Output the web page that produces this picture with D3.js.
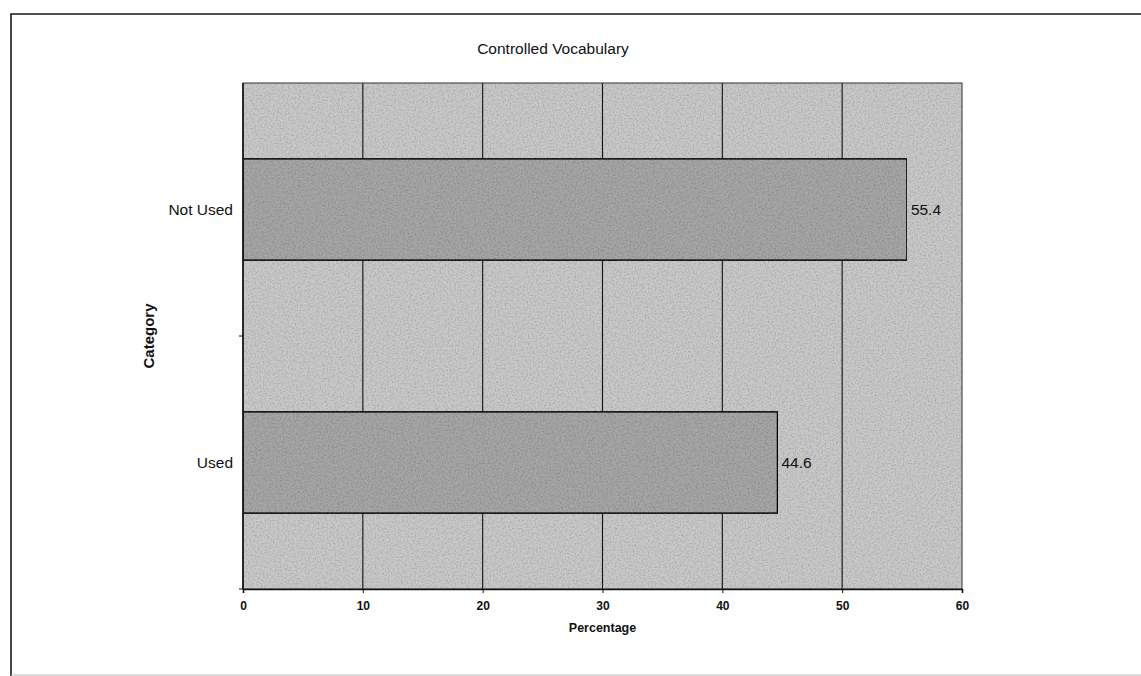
<!DOCTYPE html>
<html>
<head>
<meta charset="utf-8">
<script src="https://cdn.jsdelivr.net/npm/d3@7"></script>
<style>
  html, body { margin: 0; padding: 0; background: #fff; }
  svg { display: block; font-family: "Liberation Sans", Arial, sans-serif; }
</style>
</head>
<body>
<svg id="chart" width="1141" height="676"></svg>
<script>
// Survey results: share of respondents using a controlled vocabulary
const categories = ["Not Used", "Used"];
const percentages = [55.4, 44.6];
const xTicks = [0, 10, 20, 30, 40, 50, 60];
const chartTitle = "Controlled Vocabulary";
const xTitle = "Percentage";
const yTitle = "Category";

const W = 1141, H = 676;
const plot = { left: 243, top: 83, right: 962, bottom: 589 };

const svg = d3.select("#chart");

// grain texture for the shaded areas
const defs = svg.append("defs");
const grain = defs.append("filter").attr("id", "grain")
  .attr("x", 0).attr("y", 0).attr("width", 1).attr("height", 1);
grain.append("feTurbulence").attr("type", "fractalNoise")
  .attr("baseFrequency", 0.6).attr("numOctaves", 2).attr("seed", 7).attr("result", "noise");
grain.append("feColorMatrix").attr("in", "noise").attr("type", "matrix")
  .attr("values", "0 0 0 0 0  0 0 0 0 0  0 0 0 0 0  0 0 0 0.7 -0.28").attr("result", "dots");
grain.append("feComposite").attr("in", "dots").attr("in2", "SourceGraphic").attr("operator", "in").attr("result", "dotsIn");
grain.append("feMerge").selectAll("feMergeNode")
  .data(["SourceGraphic", "dotsIn"]).join("feMergeNode").attr("in", d => d);

// outer frame
svg.append("path")
  .attr("d", `M11,${H + 2} L11,14 L${W + 2},14`)
  .attr("fill", "none").attr("stroke", "#1a1a1a").attr("stroke-width", 1.6);
svg.append("line")
  .attr("x1", 11).attr("x2", W).attr("y1", 675).attr("y2", 675)
  .attr("stroke", "#bbb").attr("stroke-width", 1);

const x = d3.scaleLinear().domain([0, 60]).range([plot.left, plot.right]);
const y = d3.scaleBand().domain(categories)
  .range([plot.top, plot.bottom]).paddingInner(0.6).paddingOuter(0.3);

// plot background
svg.append("rect")
  .attr("x", plot.left).attr("y", plot.top)
  .attr("width", plot.right - plot.left).attr("height", plot.bottom - plot.top)
  .attr("fill", "#c9c9c9").attr("filter", "url(#grain)");

// vertical gridlines
svg.append("g").selectAll("line").data(xTicks.slice(1, -1)).join("line")
  .attr("x1", d => x(d)).attr("x2", d => x(d))
  .attr("y1", plot.top).attr("y2", plot.bottom)
  .attr("stroke", "#111").attr("stroke-width", 1.1);

// bars
svg.append("g").selectAll("rect").data(categories).join("rect")
  .attr("x", x(0))
  .attr("y", d => y(d))
  .attr("width", (d, i) => x(percentages[i]) - x(0))
  .attr("height", y.bandwidth())
  .attr("fill", "#a6a6a6")
  .attr("stroke", "#111").attr("stroke-width", 1.5)
  .attr("filter", "url(#grain)");

// value labels
svg.append("g").selectAll("text").data(categories).join("text")
  .attr("x", (d, i) => x(percentages[i]) + 4)
  .attr("y", d => y(d) + y.bandwidth() / 2)
  .attr("dy", "0.36em")
  .attr("font-size", 15.5).attr("fill", "#111")
  .text((d, i) => percentages[i].toFixed(1));

// plot frame
svg.append("rect")
  .attr("x", plot.left).attr("y", plot.top)
  .attr("width", plot.right - plot.left).attr("height", plot.bottom - plot.top)
  .attr("fill", "none").attr("stroke", "#333").attr("stroke-width", 1);

// x axis
const xAxis = svg.append("g")
  .attr("transform", `translate(0,${plot.bottom})`)
  .call(d3.axisBottom(x).tickValues(xTicks).tickSize(4).tickPadding(8).tickFormat(d3.format("d")));
xAxis.select(".domain").attr("stroke", "#111").attr("stroke-width", 1.6);
xAxis.selectAll(".tick line").attr("stroke", "#111");
xAxis.selectAll("text")
  .attr("font-size", 12).attr("font-weight", "bold").attr("fill", "#111")
  .attr("font-family", "'Liberation Sans', Arial, sans-serif");

// y axis: ticks sit on the category boundaries
const boundaries = [(plot.top + plot.bottom) / 2, plot.bottom];
svg.append("g").selectAll("line").data(boundaries).join("line")
  .attr("x1", plot.left - 4).attr("x2", plot.left)
  .attr("y1", d => d).attr("y2", d => d)
  .attr("stroke", "#111").attr("stroke-width", 1);
svg.append("line")
  .attr("x1", plot.left).attr("x2", plot.left)
  .attr("y1", plot.top).attr("y2", plot.bottom)
  .attr("stroke", "#111").attr("stroke-width", 1.6);

svg.append("g").selectAll("text").data(categories).join("text")
  .attr("x", plot.left - 10)
  .attr("y", d => y(d) + y.bandwidth() / 2)
  .attr("dy", "0.36em")
  .attr("text-anchor", "end")
  .attr("font-size", 15.5).attr("fill", "#111")
  .text(d => d);

// titles
svg.append("text")
  .attr("x", 553).attr("y", 54)
  .attr("text-anchor", "middle")
  .attr("font-size", 15.5).attr("fill", "#111")
  .text(chartTitle);

svg.append("text")
  .attr("x", (plot.left + plot.right) / 2).attr("y", 632)
  .attr("text-anchor", "middle")
  .attr("font-size", 12.5).attr("font-weight", "bold").attr("fill", "#111")
  .text(xTitle);

svg.append("text")
  .attr("transform", `translate(154,${(plot.top + plot.bottom) / 2}) rotate(-90)`)
  .attr("text-anchor", "middle")
  .attr("font-size", 15).attr("font-weight", "bold").attr("fill", "#111")
  .text(yTitle);
</script>
</body>
</html>
